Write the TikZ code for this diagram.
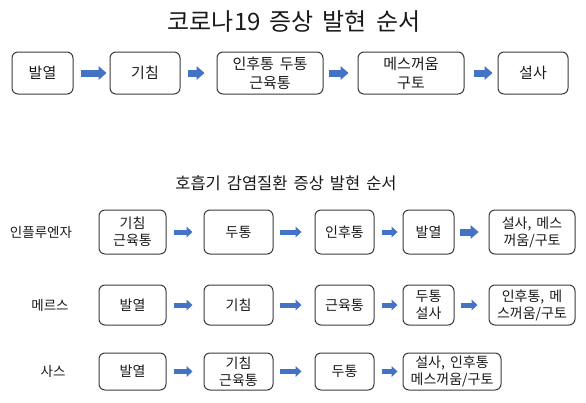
\documentclass[tikz,border=0pt]{standalone}
\usepackage{fontspec}
\setmainfont{Noto Sans CJK KR}
\usetikzlibrary{arrows.meta}
\definecolor{arrblue}{HTML}{4472C4}
\definecolor{boxline}{HTML}{3A3A3A}
\definecolor{txt}{HTML}{1A1A1A}
\newcommand\myTitleFont{\fontsize{24}{28}\selectfont\spaceskip=9pt\relax}
\newcommand\mySubFont{\fontsize{16.5}{19}\selectfont\spaceskip=6pt\relax}
\newcommand\myTopFont{\fontsize{15}{19}\selectfont\spaceskip=6pt\relax}
\newcommand\myBotFont{\fontsize{14}{17}\selectfont\spaceskip=5pt\relax}
\tikzset{
  box/.style={draw=boxline, line width=1pt, rounded corners=6pt, align=center, inner sep=0pt, text=txt},
  topbox/.style={box, minimum height=42pt, font=\myTopFont},
  botbox/.style={box, font=\myBotFont},
  rowlabel/.style={text=txt, font=\fontsize{13.5}{16}\selectfont},
  bigarrow/.style={draw=arrblue, line width=7pt, -{Triangle[length=8pt,width=14pt,line width=0pt]}},
  smallarrow/.style={draw=arrblue, line width=5pt, -{Triangle[length=6pt,width=11pt,line width=0pt]}},
}
\begin{document}
\begin{tikzpicture}[x=1pt,y=-1pt]
\useasboundingbox (0,0) rectangle (586,402);
% title
\node[text=txt, font=\myTitleFont] (title) at (294,22) {코로나19 증상 발현 순서};
% top row
\node[topbox, minimum width=61pt] (t1) at (42.5,73) {발열};
\node[topbox, minimum width=70pt] (t2) at (145,73) {기침};
\node[topbox, minimum width=106pt] (t3) at (270,73) {인후통 두통\\근육통};
\node[topbox, minimum width=106pt] (t4) at (411,73) {메스꺼움\\구토};
\node[topbox, minimum width=70pt] (t5) at (533,73) {설사};
\draw[bigarrow, shorten <=7pt, shorten >=3pt] (t1) -- (t2);
\draw[bigarrow, shorten <=7pt, shorten >=12pt] (t2) -- (t3);
\draw[bigarrow, shorten <=5pt, shorten >=9pt] (t3) -- (t4);
\draw[bigarrow, shorten <=9pt, shorten >=5pt] (t4) -- (t5);
% subtitle
\node[text=txt, font=\mySubFont] (subtitle) at (286,183) {호흡기 감염질환 증상 발현 순서};
% row labels
\node[rowlabel] (l1) at (41,232) {인플루엔자};
\node[rowlabel] (l2) at (50,305) {메르스};
\node[rowlabel] (l3) at (53,371.5) {사스};
% row 1
\node[botbox, minimum width=67pt, minimum height=44pt] (a1) at (132.5,232) {기침\\근육통};
\node[botbox, minimum width=69pt, minimum height=44pt] (b1) at (238.5,232) {두통};
\node[botbox, minimum width=59pt, minimum height=44pt] (c1) at (344.5,232) {인후통};
\node[botbox, minimum width=51pt, minimum height=44pt] (d1) at (428.5,232) {발열};
\node[botbox, minimum width=86pt, minimum height=44pt] (e1) at (532,232) {설사, 메스\\꺼움/구토};
\draw[smallarrow, shorten <=7pt, shorten >=11pt] (a1) -- (b1);
\draw[smallarrow, shorten <=6pt, shorten >=13pt] (b1) -- (c1);
\draw[smallarrow, shorten <=7pt, shorten >=5pt] (c1) -- (d1);
\draw[bigarrow, shorten <=5pt, shorten >=10pt] (d1) -- (e1);
% row 2
\node[botbox, minimum width=67pt, minimum height=40pt] (a2) at (132.5,305) {발열};
\node[botbox, minimum width=69pt, minimum height=40pt] (b2) at (238.5,305) {기침};
\node[botbox, minimum width=59pt, minimum height=40pt] (c2) at (344.5,305) {근육통};
\node[botbox, minimum width=51pt, minimum height=40pt] (d2) at (428.5,305) {두통\\설사};
\node[botbox, minimum width=86pt, minimum height=40pt] (e2) at (532,305) {인후통, 메\\스꺼움/구토};
\draw[smallarrow, shorten <=7pt, shorten >=11pt] (a2) -- (b2);
\draw[smallarrow, shorten <=6pt, shorten >=13pt] (b2) -- (c2);
\draw[smallarrow, shorten <=7pt, shorten >=5pt] (c2) -- (d2);
\draw[smallarrow, shorten <=6pt, shorten >=11pt] (d2) -- (e2);
% row 3
\node[botbox, minimum width=67pt, minimum height=37pt] (a3) at (132.5,371.5) {발열};
\node[botbox, minimum width=69pt, minimum height=37pt] (b3) at (238.5,371.5) {기침\\근육통};
\node[botbox, minimum width=59pt, minimum height=37pt] (c3) at (344.5,371.5) {두통};
\node[botbox, minimum width=98pt, minimum height=37pt] (d3) at (452,371.5) {설사, 인후통\\메스꺼움/구토};
\draw[smallarrow, shorten <=7pt, shorten >=11pt] (a3) -- (b3);
\draw[smallarrow, shorten <=6pt, shorten >=13pt] (b3) -- (c3);
\draw[smallarrow, shorten <=7pt, shorten >=5pt] (c3) -- (d3);
\end{tikzpicture}
\end{document}
